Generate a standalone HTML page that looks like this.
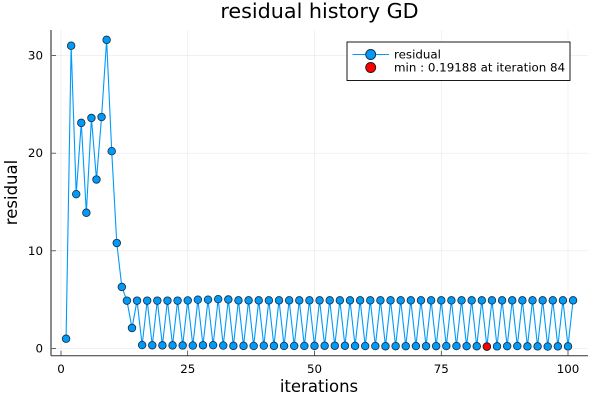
<!DOCTYPE html>
<html>
<head>
<meta charset="utf-8">
<title>residual history GD</title>
<style>
html,body{margin:0;padding:0;background:#fff;}
svg{display:block;}
text{font-family:"DejaVu Sans","Liberation Sans",sans-serif;fill:#000;}
</style>
</head>
<body>
<svg id="chart" xmlns="http://www.w3.org/2000/svg" width="600" height="400" viewBox="0 0 600 400">
  <rect width="600" height="400" fill="#fff"/>
  <g id="grid"></g>
  <g id="axes"></g>
  <g id="series"></g>
  <text x="319.5" y="18" font-size="20.7" text-anchor="middle">residual history GD</text>
  <text x="319" y="392" font-size="16.5" text-anchor="middle">iterations</text>
  <text x="0" y="0" font-size="16.5" text-anchor="middle" transform="translate(17 192.5) rotate(-90)">residual</text>
  <g id="legend">
    <rect x="347" y="42" width="223" height="38.5" fill="#fff" stroke="#000" stroke-width="0.9"/>
    <line x1="352.5" x2="389" y1="54.5" y2="54.5" stroke="#009AFA" stroke-width="1"/>
    <circle cx="370.7" cy="54.5" r="5" fill="#009AFA" stroke="#1c2b36" stroke-width="0.9"/>
    <circle cx="370.7" cy="67.5" r="5" fill="#FF0000" stroke="#1c1c1c" stroke-width="0.9"/>
    <text x="394" y="58.5" font-size="11.85">residual</text>
    <text id="legend-min" x="394" y="71.5" font-size="11.85"></text>
  </g>
</svg>
<script>
var iterations = [1,2,3,4,5,6,7,8,9,10,11,12,13,14,15,16,17,18,19,20,21,22,23,24,25,26,27,28,29,30,31,32,33,34,35,36,37,38,39,40,41,42,43,44,45,46,47,48,49,50,51,52,53,54,55,56,57,58,59,60,61,62,63,64,65,66,67,68,69,70,71,72,73,74,75,76,77,78,79,80,81,82,83,84,85,86,87,88,89,90,91,92,93,94,95,96,97,98,99,100,101];
var residuals = [1.0,31.0,15.8,23.1,13.9,23.6,17.3,23.7,31.6,20.2,10.8,6.3,4.9,2.1,4.9,0.35,4.9,0.33,4.9,0.32,4.9,0.32,4.9,0.31,4.92,0.3,5.0,0.33,5.0,0.34,5.05,0.3,5.02,0.27,4.93,0.27,4.93,0.26,4.93,0.29,4.93,0.27,4.93,0.26,4.93,0.26,4.93,0.26,4.93,0.27,4.93,0.28,4.93,0.28,4.93,0.28,4.93,0.26,4.93,0.25,4.93,0.25,4.93,0.23,4.93,0.24,4.93,0.24,4.93,0.25,4.93,0.24,4.93,0.24,4.93,0.25,4.93,0.25,4.93,0.24,4.93,0.23,4.93,0.19188,4.93,0.22,4.93,0.24,4.93,0.25,4.93,0.22,4.93,0.22,4.93,0.2,4.93,0.22,4.93,0.22,4.93];
var xTicks = [0,25,50,75,100];
var yTicks = [0,10,20,30];
var minIteration = [84];
var minResidual = [0.19188];

var NS = 'http://www.w3.org/2000/svg';
var plotLeft = 51, plotRight = 588, plotTop = 30, plotBottom = 355.7;
function xScale(v){ return 61 + v * 5.07; }
function yScale(v){ return 348.5 - v * 9.767; }
function make(parent, tag, attrs){
  var el = document.createElementNS(NS, tag);
  for (var k in attrs) el.setAttribute(k, attrs[k]);
  parent.appendChild(el);
  return el;
}
var grid = document.getElementById('grid');
var axes = document.getElementById('axes');
var series = document.getElementById('series');

xTicks.forEach(function(t){
  var x = xScale(t);
  var g = make(grid, 'line', {x1:x, x2:x, y1:plotTop, y2:plotBottom, stroke:'#000', 'stroke-opacity':0.1, 'stroke-width':0.5});
  
  
  var m = make(axes, 'line', {x1:x, x2:x, y1:plotBottom, y2:plotBottom-5, stroke:'#000', 'stroke-width':0.6});
  
  
  var l = make(axes, 'text', {x:x, y:373, 'font-size':11.85, 'text-anchor':'middle'});
  
  
  l.textContent = t;
});
yTicks.forEach(function(t){
  var y = yScale(t);
  var g = make(grid, 'line', {x1:plotLeft, x2:plotRight, y1:y, y2:y, stroke:'#000', 'stroke-opacity':0.1, 'stroke-width':0.5});
  
  
  var m = make(axes, 'line', {x1:plotLeft, x2:plotLeft+5, y1:y, y2:y, stroke:'#000', 'stroke-width':0.6});
  
  
  var l = make(axes, 'text', {x:43, y:y+4, 'font-size':11.85, 'text-anchor':'end'});
  
  
  l.textContent = t;
});
var xAxis = make(axes, 'line', {x1:plotLeft, x2:plotRight, y1:plotBottom, y2:plotBottom, stroke:'#333', 'stroke-width':1});


var yAxis = make(axes, 'line', {x1:plotLeft, x2:plotLeft, y1:plotTop, y2:plotBottom, stroke:'#666', 'stroke-width':1.5});



var pts = iterations.map(function(it, i){ return xScale(it).toFixed(2) + ',' + yScale(residuals[i]).toFixed(2); }).join(' ');
var line = make(series, 'polyline', {points:pts, fill:'none', stroke:'#009AFA', 'stroke-width':1.1, 'stroke-linejoin':'round'});


iterations.forEach(function(it, i){
  var c = make(series, 'circle', {cx:xScale(it), cy:yScale(residuals[i]), r:3.8, fill:'#009AFA', stroke:'#1c2b36', 'stroke-width':0.8});
  
  
});
var minPoint = make(series, 'circle', {cx:xScale(minIteration[0]), cy:yScale(minResidual[0]), r:3.8, fill:'#FF0000', stroke:'#1c1c1c', 'stroke-width':0.8});


document.getElementById('legend-min').textContent = 'min : ' + minResidual[0] + ' at iteration ' + minIteration[0];
</script>
</body>
</html>
